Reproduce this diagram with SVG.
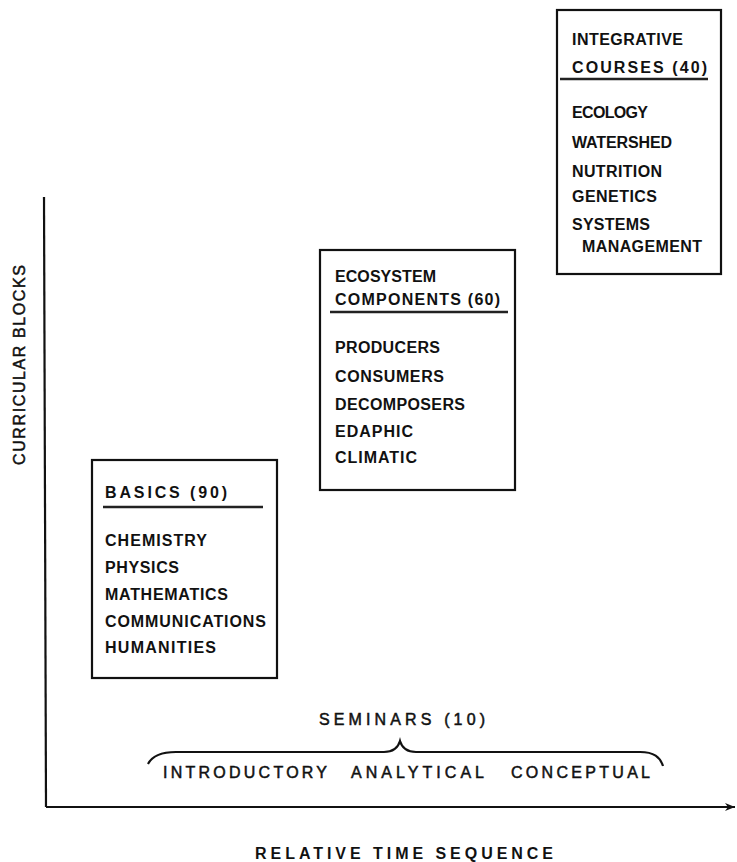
<svg xmlns="http://www.w3.org/2000/svg" width="737" height="862" viewBox="0 0 737 862">
<style>
.bx{fill:#fff;stroke:#111;stroke-width:2.2}
.t{font-family:"Liberation Sans",Arial,sans-serif;font-size:16px;font-weight:bold;fill:#111}
.r{font-family:"Liberation Sans",Arial,sans-serif;font-size:16px;fill:#111;stroke:#111;stroke-width:0.5}
.ul{stroke:#222;stroke-width:2.6}
.ln{stroke:#111;stroke-width:2.2;fill:none}
</style>
<defs>
<marker id="ah" markerWidth="12" markerHeight="10" refX="10" refY="5" orient="auto" markerUnits="userSpaceOnUse">
<path d="M0,1 L10,5 L0,9 L3,5 Z" fill="#111"/>
</marker>
</defs>
<rect width="737" height="862" fill="#fff"/>
<g id="connectors">
<path class="ln" d="M44,197 L46,807"/>
<path class="ln" d="M46,807 L735,807" marker-end="url(#ah)"/>
<path class="ln" stroke-width="1.8" d="M148,764 C152,756 160,752 176,752 L384,752 C393,752 398,748 400,741 C402,748 407,752 416,752 L640,752 C654,752 660,757 663,766"/>
</g>
<g id="axis-y-label"><text class="r" stroke-width="0.2" x="25" y="365" text-anchor="middle" textLength="200" lengthAdjust="spacing" transform="rotate(-90 25 365)">CURRICULAR BLOCKS</text></g>
<g id="axis-x-label"><text class="t" x="255" y="859" textLength="298" lengthAdjust="spacing">RELATIVE TIME SEQUENCE</text></g>
<g id="basics">
<rect class="bx" x="92" y="460" width="185" height="218"/>
<text class="t" x="105" y="498" textLength="122" lengthAdjust="spacing">BASICS (90)</text>
<line class="ul" x1="103" y1="507" x2="263" y2="507"/>
<text class="t" x="105" y="546" textLength="102" lengthAdjust="spacing">CHEMISTRY</text>
<text class="t" x="105" y="573" textLength="74" lengthAdjust="spacing">PHYSICS</text>
<text class="t" x="105" y="600" textLength="123" lengthAdjust="spacing">MATHEMATICS</text>
<text class="t" x="105" y="627" textLength="161" lengthAdjust="spacing">COMMUNICATIONS</text>
<text class="t" x="105" y="653" textLength="111" lengthAdjust="spacing">HUMANITIES</text>
</g>
<g id="ecosystem">
<rect class="bx" x="320" y="250" width="195" height="240"/>
<text class="t" x="335" y="282" textLength="101" lengthAdjust="spacing">ECOSYSTEM</text>
<text class="t" x="335" y="305" textLength="165" lengthAdjust="spacing">COMPONENTS (60)</text>
<line class="ul" x1="330" y1="312" x2="508" y2="312"/>
<text class="t" x="335" y="353" textLength="105" lengthAdjust="spacing">PRODUCERS</text>
<text class="t" x="335" y="382" textLength="109" lengthAdjust="spacing">CONSUMERS</text>
<text class="t" x="335" y="410" textLength="130" lengthAdjust="spacing">DECOMPOSERS</text>
<text class="t" x="335" y="437" textLength="78" lengthAdjust="spacing">EDAPHIC</text>
<text class="t" x="335" y="463" textLength="82" lengthAdjust="spacing">CLIMATIC</text>
</g>
<g id="integrative">
<rect class="bx" x="557" y="10" width="164" height="264"/>
<text class="t" x="572" y="45" textLength="111" lengthAdjust="spacing">INTEGRATIVE</text>
<text class="t" x="572" y="73" textLength="135" lengthAdjust="spacing">COURSES (40)</text>
<line class="ul" x1="560" y1="79" x2="708" y2="79"/>
<text class="t" x="572" y="118" textLength="76" lengthAdjust="spacing">ECOLOGY</text>
<text class="t" x="572" y="148" textLength="100" lengthAdjust="spacing">WATERSHED</text>
<text class="t" x="572" y="177" textLength="90" lengthAdjust="spacing">NUTRITION</text>
<text class="t" x="572" y="202" textLength="85" lengthAdjust="spacing">GENETICS</text>
<text class="t" x="572" y="230" textLength="78" lengthAdjust="spacing">SYSTEMS</text>
<text class="t" x="582" y="252" textLength="120" lengthAdjust="spacing">MANAGEMENT</text>
</g>
<g id="seminars">
<text class="r" x="319" y="725" textLength="166" lengthAdjust="spacing">SEMINARS (10)</text>
<text class="r" x="163" y="778" textLength="164" lengthAdjust="spacing">INTRODUCTORY</text>
<text class="r" x="351" y="778" textLength="133" lengthAdjust="spacing">ANALYTICAL</text>
<text class="r" x="511" y="778" textLength="139" lengthAdjust="spacing">CONCEPTUAL</text>
</g>
</svg>
